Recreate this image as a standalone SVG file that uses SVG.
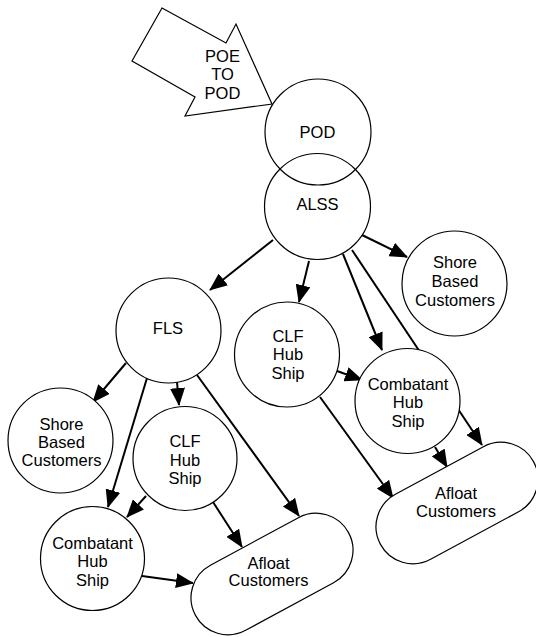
<svg xmlns="http://www.w3.org/2000/svg" width="536" height="637" viewBox="0 0 536 637">
<defs>
<style>
.n{fill:#fff;stroke:#000;stroke-width:1.2}
.o{fill:none;stroke:#000;stroke-width:1.2}
.t{font-family:"Liberation Sans",Arial,sans-serif;font-size:16.5px;text-anchor:middle;fill:#000}
.c{fill:none;stroke:#000;stroke-width:2;marker-end:url(#ah)}
</style>
<marker id="ah" markerUnits="userSpaceOnUse" markerWidth="18" markerHeight="15" viewBox="0 0 18 15" refX="17" refY="7.5" orient="auto">
<path d="M0,0 L18,7.5 L0,15 z" fill="#000"/>
</marker>
</defs>
<rect width="536" height="637" fill="#fff"/>
<g id="connectors">
<line class="c" x1="273" y1="240" x2="210" y2="290"/>
<line class="c" x1="309" y1="261" x2="299" y2="302"/>
<line class="c" x1="343" y1="254" x2="382" y2="350"/>
<line class="c" x1="352" y1="250" x2="482" y2="445"/>
<line class="c" x1="362" y1="235" x2="407" y2="257"/>
<line class="c" x1="126" y1="363" x2="93" y2="402"/>
<line class="c" x1="147" y1="378" x2="108" y2="507"/>
<line class="c" x1="177" y1="382" x2="179" y2="405"/>
<line class="c" x1="197" y1="375" x2="299" y2="516"/>
<line class="c" x1="146" y1="496" x2="127" y2="517"/>
<line class="c" x1="213" y1="502" x2="242" y2="547"/>
<line class="c" x1="142" y1="576" x2="193" y2="583"/>
<line class="c" x1="337" y1="371" x2="362" y2="380"/>
<line class="c" x1="320" y1="397" x2="393" y2="498"/>
<line class="c" x1="435" y1="447" x2="447" y2="467"/>
</g>
<g id="poe-to-pod">
<polygon class="n" points="162,8 226,43 236,24 272,104 185,116 195,97 132,61"/>
<text class="t" x="222.5" y="62">POE</text>
<text class="t" x="222.5" y="80">TO</text>
<text class="t" x="222.5" y="98.5">POD</text>
</g>
<g id="pod">
<circle class="o" cx="318" cy="132" r="53"/>
<text class="t" x="317.5" y="137.5">POD</text>
</g>
<g id="alss">
<circle class="o" cx="317.5" cy="206.5" r="53"/>
<text class="t" x="317.5" y="210">ALSS</text>
</g>
<g id="fls">
<circle class="n" cx="168.5" cy="330.5" r="52.5"/>
<text class="t" x="168" y="334">FLS</text>
</g>
<g id="shore-right">
<circle class="n" cx="454.5" cy="283.5" r="52.5"/>
<text class="t" x="455" y="267.5">Shore</text>
<text class="t" x="455" y="286.5">Based</text>
<text class="t" x="455" y="305.5">Customers</text>
</g>
<g id="clf-mid">
<circle class="n" cx="287" cy="354.5" r="52.5"/>
<text class="t" x="288" y="341.5">CLF</text>
<text class="t" x="288" y="360">Hub</text>
<text class="t" x="288" y="378.5">Ship</text>
</g>
<g id="combatant-right">
<circle class="n" cx="407.5" cy="401" r="52.5"/>
<text class="t" x="408" y="389.5">Combatant</text>
<text class="t" x="408" y="408">Hub</text>
<text class="t" x="408" y="426.5">Ship</text>
</g>
<g id="shore-left">
<circle class="n" cx="60.5" cy="440.5" r="52.5"/>
<text class="t" x="61.5" y="429.5">Shore</text>
<text class="t" x="61.5" y="447.5">Based</text>
<text class="t" x="61.5" y="466">Customers</text>
</g>
<g id="clf-left">
<circle class="n" cx="185" cy="458.5" r="52"/>
<text class="t" x="185" y="447">CLF</text>
<text class="t" x="185" y="466">Hub</text>
<text class="t" x="185" y="484">Ship</text>
</g>
<g id="combatant-left">
<circle class="n" cx="92.5" cy="558.5" r="52"/>
<text class="t" x="92.5" y="548.5">Combatant</text>
<text class="t" x="92.5" y="567">Hub</text>
<text class="t" x="92.5" y="585.5">Ship</text>
</g>
<g id="afloat-left">
<rect class="n" x="-87" y="-37" width="174" height="74" rx="37" ry="37" transform="translate(272,574) rotate(-28.4)"/>
<text class="t" x="268.5" y="568.5">Afloat</text>
<text class="t" x="268.5" y="586">Customers</text>
</g>
<g id="afloat-right">
<rect class="n" x="-87" y="-37" width="174" height="74" rx="37" ry="37" transform="translate(457,503) rotate(-28.4)"/>
<text class="t" x="456" y="499">Afloat</text>
<text class="t" x="456" y="517">Customers</text>
</g>
</svg>
